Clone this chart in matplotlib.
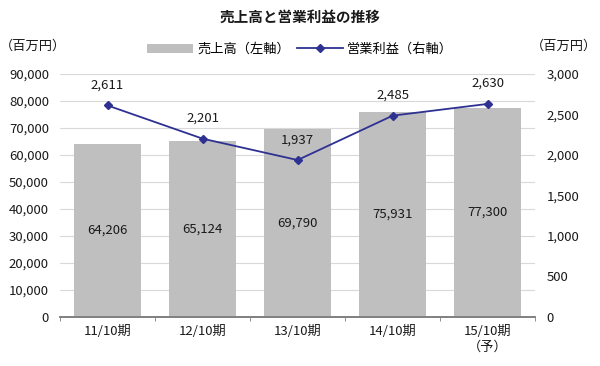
import matplotlib
matplotlib.use("Agg")
import matplotlib.pyplot as plt
from matplotlib.ticker import FuncFormatter, FixedLocator

plt.rcParams['font.family'] = ['Noto Sans CJK JP', 'DejaVu Sans']

periods = ["11/10期", "12/10期", "13/10期", "14/10期", "15/10期\n（予）"]
sales = [64206, 65124, 69790, 75931, 77300]
op_profit = [2611, 2201, 1937, 2485, 2630]

BAR_COLOR = "#bfbfbf"
LINE_COLOR = "#2e3192"
TEXT = "#1a1a1a"

fig = plt.figure(figsize=(6.0, 3.66), dpi=100)
ax = fig.add_axes([0.1, 0.134, 0.792, 0.664])
ax2 = ax.twinx()

x = list(range(len(periods)))
ax.bar(x, sales, width=0.7, color=BAR_COLOR, zorder=2, label="売上高（左軸）")
for xi, v in zip(x, sales):
    ax.text(xi, v / 2, f"{v:,}", ha="center", va="center", fontsize=9.5, color=TEXT)

ax2.plot(x, op_profit, color=LINE_COLOR, marker="D", markersize=4.5, linewidth=1.3,
         label="営業利益（右軸）", zorder=3)
for xi, v in zip(x, op_profit):
    ax2.annotate(f"{v:,}", (xi, v), xytext=(0, 10), textcoords="offset points",
                 ha="center", va="bottom", fontsize=9.5, color=TEXT)

ax.set_xlim(-0.5, 4.5)
ax.set_ylim(0, 90000)
ax.set_yticks(range(0, 90001, 10000))
ax.yaxis.set_major_formatter(FuncFormatter(lambda v, p: f"{int(v):,}"))
ax2.set_ylim(0, 3000)
ax2.set_yticks(range(0, 3001, 500))
ax2.yaxis.set_major_formatter(FuncFormatter(lambda v, p: f"{int(v):,}"))

ax.set_xticks(x)
ax.set_xticklabels(periods, fontsize=9.5, color=TEXT)
ax.xaxis.set_minor_locator(FixedLocator([i - 0.5 for i in range(len(periods) + 1)]))
ax.tick_params(axis="x", which="major", length=0, pad=6)
ax.tick_params(axis="x", which="minor", length=3, color="#808080", direction="out")
ax.tick_params(axis="y", length=0, labelsize=9.5, labelcolor=TEXT, pad=8)
ax2.tick_params(axis="y", length=0, labelsize=9.5, labelcolor=TEXT, pad=8)

ax.grid(axis="y", color="#d9d9d9", linewidth=0.8, zorder=0)
ax.set_axisbelow(True)
for a in (ax, ax2):
    for s in ("top", "left", "right"):
        a.spines[s].set_visible(False)
    a.spines["bottom"].set_color("#808080")
    a.spines["bottom"].set_linewidth(1.2)

fig.text(0.5, 0.955, "売上高と営業利益の推移", ha="center", va="center", fontsize=10.5,
         fontweight="bold", color=TEXT)
fig.text(0.055, 0.875, "（百万円）", ha="center", va="center", fontsize=9.5, color=TEXT)
fig.text(0.94, 0.875, "（百万円）", ha="center", va="center", fontsize=9.5, color=TEXT)

h1, l1 = ax.get_legend_handles_labels()
h2, l2 = ax2.get_legend_handles_labels()
fig.legend(h1 + h2, l1 + l2, loc="center", bbox_to_anchor=(0.5, 0.865), ncol=2,
           frameon=False, fontsize=9.5, handlelength=3.5, columnspacing=0.5, handletextpad=0.3)

fig.savefig("out.png", dpi=100)
